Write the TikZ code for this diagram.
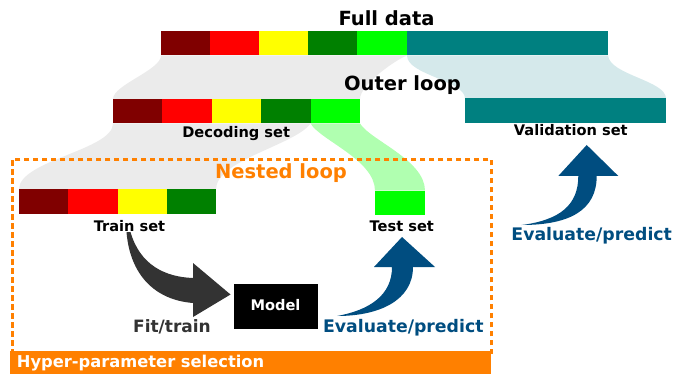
\documentclass[tikz,border=0pt]{standalone}
\usepackage{fontspec}
\setmainfont{DejaVu Sans}
\definecolor{cmaroon}{RGB}{128,0,0}
\definecolor{cred}{RGB}{255,0,0}
\definecolor{cyellow}{RGB}{255,255,0}
\definecolor{cgreen}{RGB}{0,128,0}
\definecolor{clime}{RGB}{0,255,0}
\definecolor{cteal}{RGB}{0,128,128}
\definecolor{cgray}{RGB}{235,235,235}
\definecolor{ctealpale}{RGB}{213,233,235}
\definecolor{climepale}{RGB}{176,255,176}
\definecolor{corange}{RGB}{255,128,0}
\definecolor{cdark}{RGB}{51,51,51}
\definecolor{cblue}{RGB}{0,77,128}
\pgfdeclarelayer{bg}
\pgfsetlayers{bg,main}
\begin{document}
\begin{tikzpicture}[x=1pt,y=-1pt,
  seg/.style={inner sep=0pt,outer sep=0pt,minimum height=24.5pt,anchor=north west,draw=none},
  seg49/.style={seg,minimum width=49.4pt},
  lbl/.style={inner sep=0pt,anchor=base,font=\bfseries\fontsize{14.6}{15}\selectfont},
  title/.style={inner sep=0pt,anchor=base,font=\bfseries\fontsize{19.5}{20}\selectfont},
  action/.style={inner sep=0pt,anchor=base,font=\bfseries\fontsize{17.3}{18}\selectfont}]
\useasboundingbox (0,0) rectangle (674,374);

% Full data bar
\node[seg,minimum width=49pt,fill=cmaroon] (f1) at (161,31) {};
\node[seg,minimum width=49pt,fill=cred] (f2) at (210,31) {};
\node[seg,minimum width=49pt,fill=cyellow] (f3) at (259,31) {};
\node[seg,minimum width=49pt,fill=cgreen] (f4) at (308,31) {};
\node[seg,minimum width=50pt,fill=clime] (f5) at (357,31) {};
\node[seg,minimum width=201pt,fill=cteal] (f6) at (407,31) {};
\node[title] (fulltxt) at (386.5,26) {Full data};

% Decoding set bar
\node[seg49,fill=cmaroon] (d1) at (113,99) {};
\node[seg49,fill=cred] (d2) at (162.4,99) {};
\node[seg49,fill=cyellow] (d3) at (211.8,99) {};
\node[seg49,fill=cgreen] (d4) at (261.2,99) {};
\node[seg49,fill=clime] (d5) at (310.6,99) {};
\node[lbl] (dectxt) at (236.2,137.5) {Decoding set};
\node[title] (outertxt) at (402.5,90.7) {Outer loop};

% Validation bar
\node[seg,minimum width=201pt,fill=cteal] (v) at (465,98.5) {};
\node[lbl] (valtxt) at (570.8,135.8) {Validation set};

% Train bar
\node[seg,minimum width=49.25pt,fill=cmaroon] (t1) at (19,189.3) {};
\node[seg,minimum width=49.25pt,fill=cred] (t2) at (68.25,189.3) {};
\node[seg,minimum width=49.25pt,fill=cyellow] (t3) at (117.5,189.3) {};
\node[seg,minimum width=49.25pt,fill=cgreen] (t4) at (166.75,189.3) {};
\node[lbl] (traintxt) at (129.5,231) {Train set};

% Test bar
\node[seg,minimum width=50pt,fill=clime] (ts) at (375,190.7) {};
\node[lbl] (testtxt) at (401.8,231) {Test set};

% Funnels
\begin{pgfonlayer}{bg}
\fill[cgray] (f1.south west) .. controls +(0,14.5) and +(0,-14) .. (d1.north west)
  -- (d5.north east) .. controls +(0,-14) and +(-12,4.5) .. (f5.south east) -- cycle;
\fill[ctealpale] (f6.south west) .. controls +(0,19.5) and +(0,-18) .. (v.north west)
  -- (v.north east) .. controls +(0,-18) and +(2,19.5) .. (f6.south east) -- cycle;
\fill[cgray] (d1.south west) .. controls +(0,26.5) and +(0,-29) .. (t1.north west)
  -- (t4.north east) .. controls +(0,-29) and +(-15.6,21.5) .. (d4.south east) -- cycle;
\fill[climepale] (d5.south west) .. controls +(9.4,16.5) and +(0,-30.7) .. (ts.north west)
  -- (ts.north east) .. controls +(0,-30.7) and +(10,16.5) .. (d5.south east) -- cycle;
\end{pgfonlayer}

% Nested loop box
\node[draw=corange,line width=2.6pt,dash pattern=on 5.5pt off 3.5pt,inner sep=0pt,
  minimum width=479pt,minimum height=193pt,anchor=north west] (nested) at (11,158) {};
\node[title,text=corange] (nestedtxt) at (281,178.3) {Nested loop};

% Hyper-parameter bar
\node[fill=corange,inner sep=0pt,minimum width=481pt,minimum height=23pt,anchor=north west] (hyper) at (10,351) {};
\node[inner sep=0pt,anchor=base west,text=white,font=\bfseries\fontsize{16.3}{17}\selectfont] (hypertxt) at (16.7,367.3) {Hyper-parameter selection};

% Model
\node[fill=black,inner sep=0pt,minimum width=83.4pt,minimum height=44.4pt] (model) at (276,306.5) {};
\node[inner sep=0pt,anchor=base,text=white,font=\bfseries\fontsize{14.6}{15}\selectfont] (modeltxt) at (275.5,310.7) {Model};

% Fat arrows
\fill[cdark] (126.5,232) .. controls (130,275) and (155,300) .. (193,303) -- (193,317)
  -- (230.5,294.5) -- (193,263) -- (193,278) .. controls (165,277) and (140,265) .. (130.5,232) -- cycle;
\fill[cblue] (337,316) .. controls (380,316) and (413,300) .. (413,267) -- (435,267)
  -- (402,237) -- (374,267) -- (392,267) .. controls (392,295) and (370,310) .. (337,316) -- cycle;
\fill[cblue] (521.7,225) .. controls (570,225) and (596.7,210) .. (596.7,176) -- (618.3,176)
  -- (586.7,145) -- (558.3,176) -- (578.3,176) .. controls (578.3,205) and (560,220) .. (521.7,225) -- cycle;

% Action labels
\node[action,text=cdark,font=\bfseries\fontsize{17}{18}\selectfont] (fittxt) at (172,332.7) {Fit/train};
\node[action,text=cblue] (evaltxt) at (403.3,332.7) {Evaluate/predict};
\node[action,text=cblue] (evaltxt2) at (591.7,240.7) {Evaluate/predict};
\end{tikzpicture}
\end{document}
